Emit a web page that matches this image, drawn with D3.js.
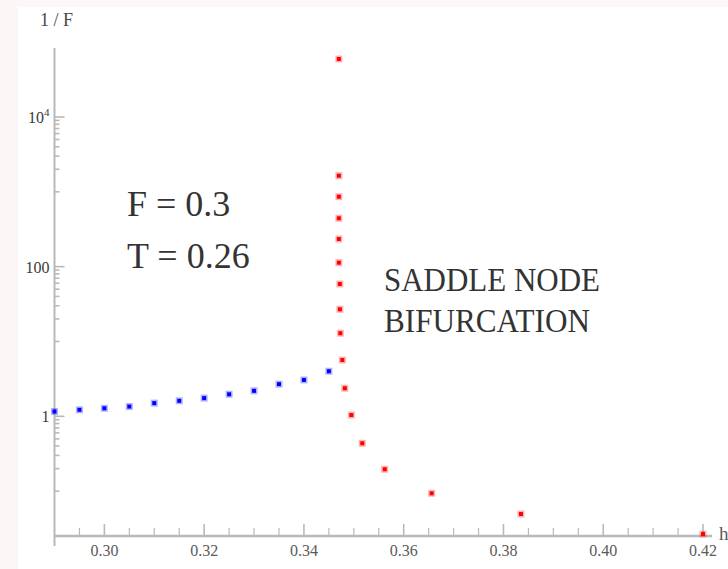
<!DOCTYPE html>
<html>
<head>
<meta charset="utf-8">
<script src="https://d3js.org/d3.v7.min.js"></script>
<style>
  body { margin: 0; background: #fcf6f6; }
  svg { display: block; }
</style>
</head>
<body>
<svg class="chart"></svg>
<script>
// stable branch (blue) and unstable branch (red), h vs 1/F on log scale
const blueH = [0.29, 0.295, 0.30, 0.305, 0.31, 0.315, 0.32, 0.325, 0.33, 0.335, 0.34, 0.345]
const blueP = [1.16, 1.22, 1.28, 1.35, 1.50, 1.61, 1.75, 1.97, 2.19, 2.69, 3.06, 4.0]

const redH = [0.347, 0.347, 0.347, 0.347, 0.347, 0.347, 0.3472, 0.3472, 0.3473, 0.3477,
  0.3482, 0.3495, 0.3517, 0.3562, 0.3656, 0.3835, 0.42]
const redP = [59560, 1641, 860, 443, 234, 113, 58.6, 26.9, 12.9, 5.65,
  2.37, 1.04, 0.436, 0.196, 0.0935, 0.0495, 0.0267]

const xMajor = [0.30, 0.32, 0.34, 0.36, 0.38, 0.40, 0.42]
const xMinor = [0.295, 0.305, 0.31, 0.315, 0.325, 0.33, 0.335, 0.345, 0.35, 0.355,
  0.365, 0.37, 0.375, 0.385, 0.39, 0.395, 0.405, 0.41, 0.415]
const yMajor = [1, 100, 10000]
const yMinor = [0.1, 0.2, 0.3, 0.4, 0.5, 0.6, 0.7, 0.8, 0.9,
  10, 20, 30, 40, 50, 60, 70, 80, 90,
  1000, 2000, 3000, 4000, 5000, 6000, 7000, 8000, 9000]

const width = 728
const height = 569
const serif = "'Liberation Serif', 'Times New Roman', 'DejaVu Serif', serif"
const axisColor = '#b9b9b9'
const labelColor = '#5a5a5a'

const x = d3.scaleLinear().domain([0.29, 0.4218]).range([54.5, 712])
const y = d3.scaleLog().domain([0.02514, 83540]).range([536, 48])

const chart = d3.select('.chart')
  .attr('width', width)
  .attr('height', height)
  .style('font-family', serif)

chart.append('rect')
  .attr('x', 18).attr('y', 7)
  .attr('width', width - 18).attr('height', height - 7)
  .attr('fill', '#ffffff')

// axes
const axes = chart.append('g').attr('class', 'axes')
axes.append('line')
  .attr('x1', x.range()[0]).attr('x2', x.range()[1])
  .attr('y1', y.range()[0]).attr('y2', y.range()[0])
  .attr('stroke', axisColor).attr('stroke-width', 2.5)
axes.append('line')
  .attr('x1', x.range()[0]).attr('x2', x.range()[0])
  .attr('y1', y.range()[1]).attr('y2', y.range()[0] + 10)
  .attr('stroke', axisColor).attr('stroke-width', 2)

axes.selectAll('.xmajor').data(xMajor).enter().append('line')
  .attr('x1', d => x(d)).attr('x2', d => x(d))
  .attr('y1', y.range()[0]).attr('y2', y.range()[0] - 12)
  .attr('stroke', axisColor).attr('stroke-width', 1.6)
axes.selectAll('.xminor').data(xMinor).enter().append('line')
  .attr('x1', d => x(d)).attr('x2', d => x(d))
  .attr('y1', y.range()[0]).attr('y2', y.range()[0] - 8)
  .attr('stroke', axisColor).attr('stroke-width', 1.2)

axes.selectAll('.ymajor').data(yMajor).enter().append('line')
  .attr('x1', x.range()[0]).attr('x2', x.range()[0] + 10)
  .attr('y1', d => y(d)).attr('y2', d => y(d))
  .attr('stroke', axisColor).attr('stroke-width', 1.6)
axes.selectAll('.yminor').data(yMinor).enter().append('line')
  .attr('x1', x.range()[0]).attr('x2', x.range()[0] + 5)
  .attr('y1', d => y(d)).attr('y2', d => y(d))
  .attr('stroke', axisColor).attr('stroke-width', 1.6)

axes.selectAll('.xlabel').data(xMajor).enter().append('text')
  .attr('x', d => x(d)).attr('y', y.range()[0] + 20)
  .attr('text-anchor', 'middle')
  .attr('font-family', serif)
  .attr('font-size', 16)
  .attr('fill', labelColor)
  .text(d => d.toFixed(2))

const yLabels = axes.selectAll('.ylabel').data(yMajor).enter().append('text')
  .attr('x', x.range()[0] - 5).attr('y', d => y(d) + 6)
  .attr('text-anchor', 'end')
  .attr('font-family', serif)
  .attr('font-size', 16)
  .attr('fill', '#3a3a3a')
yLabels.each(function (d) {
  const t = d3.select(this)
  if (d === 10000) {
    t.append('tspan').text('10')
    t.append('tspan').attr('font-size', 11).attr('dy', -7).text('4')
  } else {
    t.text(d)
  }
})

chart.append('text')
  .attr('x', 40).attr('y', 26)
  .attr('font-family', serif)
  .attr('font-size', 18)
  .attr('fill', '#4a4a4a')
  .attr('xml:space', 'preserve')
  .text('1 / F')

chart.append('text')
  .attr('x', 719).attr('y', 540)
  .attr('font-family', serif)
  .attr('font-size', 19)
  .attr('fill', labelColor)
  .text('h')

// points
const drawPoints = (hs, ps, color, cls) => {
  const g = chart.append('g').attr('class', cls)
  const pts = hs.map((h, i) => [h, ps[i]])
  g.selectAll('rect.halo').data(pts).enter().append('rect')
    .attr('class', 'halo')
    .attr('x', d => x(d[0]) - 3.5).attr('y', d => y(d[1]) - 3.5)
    .attr('width', 7).attr('height', 7)
    .attr('fill', color).attr('opacity', 0.3)
  g.selectAll('rect.core').data(pts).enter().append('rect')
    .attr('class', 'core')
    .attr('x', d => x(d[0]) - 2).attr('y', d => y(d[1]) - 2)
    .attr('width', 4).attr('height', 4)
    .attr('fill', color)
}
drawPoints(blueH, blueP, '#0000ff', 'stable')
drawPoints(redH, redP, '#ff0000', 'unstable')

// annotations
const notes = chart.append('g').attr('fill', '#333333').attr('font-family', serif)
notes.append('text').attr('x', 127).attr('y', 216).attr('font-size', 36).text('F = 0.3')
notes.append('text').attr('x', 127).attr('y', 268).attr('font-size', 36).text('T = 0.26')
notes.append('text').attr('x', 384).attr('y', 291).attr('font-size', 33)
  .attr('textLength', 216).attr('lengthAdjust', 'spacingAndGlyphs').text('SADDLE NODE')
notes.append('text').attr('x', 384).attr('y', 332).attr('font-size', 33)
  .attr('textLength', 206).attr('lengthAdjust', 'spacingAndGlyphs').text('BIFURCATION')
</script>
</body>
</html>
